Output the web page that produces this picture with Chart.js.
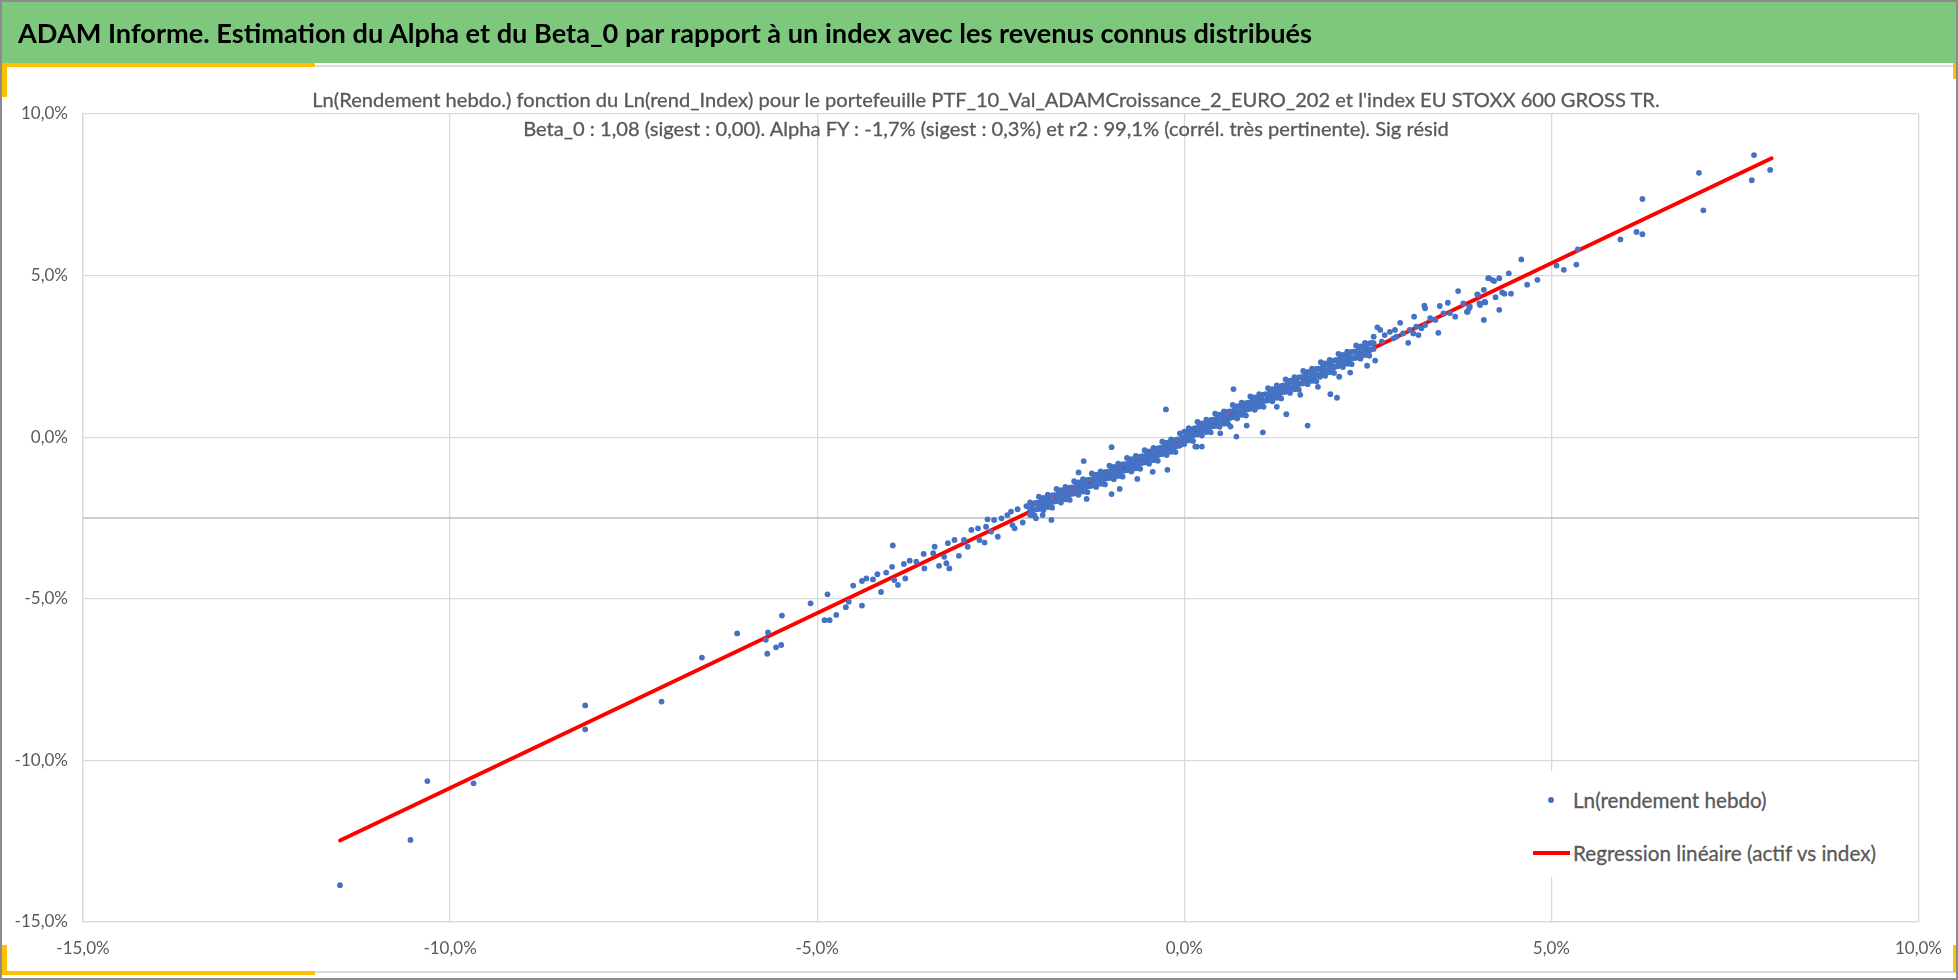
<!DOCTYPE html>
<html lang="fr">
<head>
<meta charset="utf-8">
<title>ADAM Informe - Alpha et Beta_0</title>
<script src="https://cdn.jsdelivr.net/npm/chart.js@4.4.1/dist/chart.umd.min.js"></script>
<style>
  html, body { margin: 0; padding: 0; background: #fff; }
  #page { position: relative; width: 1958px; height: 980px; overflow: hidden; background: #fff; }
  #chart { position: absolute; left: 0; top: 0; }
  .deco { position: absolute; }
  #band { left: 2px; top: 2px; width: 1954px; height: 61px; background: #7ec87e; }
  #bandTitle { position: absolute; left: 18px; top: 2px; height: 61px; display: flex; align-items: center; color: #000; font-weight: bold; white-space: nowrap; }
  .sub { position: absolute; left: 0; width: 1972px; text-align: center; line-height: 29px; color: #595959; white-space: nowrap; -webkit-text-stroke: 0.3px #595959; }
  #legend { position: absolute; left: 1530px; top: 771px; width: 365px; height: 106px; background: #fff; }
  .legRow { position: absolute; left: 43px; height: 30px; line-height: 30px; color: #595959; white-space: nowrap; -webkit-text-stroke: 0.3px #595959; }
  .legDot { position: absolute; width: 6px; height: 6px; border-radius: 50%; }
  .legLine { position: absolute; height: 4px; }
  #border { position: absolute; left: 0; top: 0; width: 1958px; height: 980px; box-sizing: border-box; border: 2px solid #8c8c8c; pointer-events: none; }
</style>
</head>
<body>
<div id="page">
  <canvas id="chart" width="1958" height="980"></canvas>
  <div class="deco" id="band"></div>
  <div id="bandTitle">ADAM Informe. Estimation du Alpha et du Beta_0 par rapport à un index avec les revenus connus distribués</div>
  <div class="deco" style="left:4px;top:63px;width:311px;height:4px;background:#ffc000"></div>
  <div class="deco" style="left:315px;top:65px;width:1641px;height:2px;background:#dcdcdc"></div>
  <div class="deco" style="left:2px;top:63px;width:5px;height:34px;background:#ffc000"></div>
  <div class="deco" style="left:1953px;top:63px;width:3px;height:16px;background:#ffc000"></div>
  <div class="deco" style="left:2px;top:945px;width:5px;height:30px;background:#ffc000"></div>
  <div class="deco" style="left:2px;top:971px;width:313px;height:4px;background:#ffc000"></div>
  <div class="deco" style="left:315px;top:971px;width:1641px;height:2px;background:#dcdcdc"></div>
  <div class="deco" style="left:1953px;top:945px;width:3px;height:27px;background:#ffc000"></div>
  <div class="sub" id="sub1" style="top:85px">Ln(Rendement hebdo.) fonction du Ln(rend_Index) pour le portefeuille PTF_10_Val_ADAMCroissance_2_EURO_202 et l'index EU STOXX 600 GROSS TR.</div>
  <div class="sub" id="sub2" style="top:114px">Beta_0 : 1,08 (sigest : 0,00). Alpha FY : -1,7% (sigest : 0,3%) et r2 : 99,1% (corrél. très pertinente). Sig résid</div>
  <div id="legend"></div>
  <div id="border"></div>
</div>
<script>
// Ln weekly returns, in %: [index, portfolio]
const lowerTailPoints = [
  [-11.50, -13.86], [-10.54, -12.46], [-10.31, -10.64], [-9.68, -10.71], [-8.16, -8.30], [-8.16, -9.04],
  [-7.12, -8.18], [-6.57, -6.82], [-6.09, -6.07], [-5.67, -6.04], [-5.70, -6.27], [-5.68, -6.70],
  [-5.56, -6.50], [-5.49, -6.43], [-5.48, -5.52], [-5.09, -5.14],
  [-4.86, -4.86], [-4.90, -5.66], [-4.83, -5.66], [-4.74, -5.50], [-4.61, -5.26], [-4.57, -5.09],
  [-4.51, -4.59], [-4.39, -5.21], [-4.39, -4.45], [-4.33, -4.37], [-4.24, -4.40], [-4.18, -4.24],
  [-4.13, -4.79], [-4.06, -4.19], [-3.97, -3.35], [-3.98, -4.01], [-3.90, -4.57], [-3.95, -4.42],
  [-3.82, -3.92], [-3.80, -4.37], [-3.74, -3.82], [-3.65, -3.85], [-3.54, -4.06], [-3.55, -3.61],
  [-3.40, -3.39], [-3.42, -3.59], [-3.34, -3.98], [-3.24, -3.90], [-3.20, -4.06], [-3.27, -3.70],
  [-3.22, -3.28], [-3.13, -3.18], [-3.07, -3.67], [-3.00, -3.18], [-2.95, -3.39], [-2.90, -2.87],
  [-2.81, -2.82], [-2.79, -3.18], [-2.72, -3.26], [-2.68, -2.54], [-2.70, -2.77], [-2.63, -2.92],
  [-2.54, -3.08], [-2.59, -2.56], [-2.49, -2.51], [-2.41, -2.41], [-2.34, -2.72], [-2.31, -2.82],
  [-2.36, -2.30], [-2.27, -2.23], [-2.20, -2.64], [-2.15, -2.13], [-2.09, -2.41], [-2.02, -2.51],
  [-1.93, -2.41], [-1.81, -2.56], [-0.99, -0.31], [-1.37, -0.74], [-1.44, -1.09], [-0.99, -1.76],
  [-1.33, -1.91], [-0.88, -1.60], [-0.64, -1.29], [-0.43, -1.07], [-0.23, -1.01], [-0.25, 0.86],
  [0.15, -0.29]
];

const coreBandPoints = [
  [-2.10, -2.02], [-2.10, -2.22], [-2.10, -2.40], [-2.04, -2.04], [-2.04, -2.24], [-2.04, -2.42],
  [-1.98, -1.84], [-1.98, -2.04], [-1.98, -2.22], [-1.92, -1.88], [-1.92, -2.08], [-1.92, -2.26],
  [-1.86, -1.78], [-1.86, -1.98], [-1.86, -2.16], [-1.80, -1.80], [-1.80, -2.00], [-1.80, -2.18],
  [-1.74, -1.60], [-1.74, -1.80], [-1.74, -1.98], [-1.68, -1.64], [-1.68, -1.84], [-1.68, -2.02],
  [-1.62, -1.54], [-1.62, -1.74], [-1.62, -1.92], [-1.56, -1.56], [-1.56, -1.76], [-1.56, -1.94],
  [-1.50, -1.36], [-1.50, -1.56], [-1.50, -1.74], [-1.44, -1.40], [-1.44, -1.60], [-1.44, -1.78],
  [-1.38, -1.30], [-1.38, -1.50], [-1.38, -1.68], [-1.32, -1.32], [-1.32, -1.52], [-1.32, -1.70],
  [-1.26, -1.12], [-1.26, -1.32], [-1.26, -1.50], [-1.20, -1.16], [-1.20, -1.36], [-1.20, -1.54],
  [-1.14, -1.06], [-1.14, -1.26], [-1.14, -1.44], [-1.08, -1.08], [-1.08, -1.28], [-1.08, -1.46],
  [-1.02, -0.88], [-1.02, -1.08], [-1.02, -1.26], [-0.96, -0.92], [-0.96, -1.12], [-0.96, -1.30],
  [-0.90, -0.82], [-0.90, -1.02], [-0.90, -1.20], [-0.84, -0.84], [-0.84, -1.04], [-0.84, -1.22],
  [-0.78, -0.64], [-0.78, -0.84], [-0.78, -1.02], [-0.72, -0.68], [-0.72, -0.88], [-0.72, -1.06],
  [-0.66, -0.58], [-0.66, -0.78], [-0.66, -0.96], [-0.60, -0.60], [-0.60, -0.80], [-0.60, -0.98],
  [-0.54, -0.40], [-0.54, -0.60], [-0.54, -0.78], [-0.48, -0.44], [-0.48, -0.64], [-0.48, -0.82],
  [-0.42, -0.33], [-0.42, -0.53], [-0.42, -0.71], [-0.36, -0.35], [-0.36, -0.55], [-0.36, -0.73],
  [-0.30, -0.14], [-0.30, -0.34], [-0.30, -0.52], [-0.24, -0.17], [-0.24, -0.37], [-0.24, -0.55],
  [-0.18, -0.07], [-0.18, -0.27], [-0.18, -0.45], [-0.12, -0.08], [-0.12, -0.28], [-0.12, -0.46],
  [-0.06, 0.12], [-0.06, -0.08], [-0.06, -0.26], [0.00, 0.17], [0.00, -0.03], [0.00, -0.21],
  [0.06, 0.28], [0.06, 0.08], [0.06, -0.10], [0.12, 0.26], [0.12, 0.06], [0.12, -0.12],
  [0.18, 0.47], [0.18, 0.27], [0.18, 0.09], [0.24, 0.43], [0.24, 0.23], [0.24, 0.05],
  [0.30, 0.54], [0.30, 0.34], [0.30, 0.16], [0.36, 0.53], [0.36, 0.33], [0.36, 0.15],
  [0.42, 0.73], [0.42, 0.53], [0.42, 0.35], [0.48, 0.70], [0.48, 0.50], [0.48, 0.32],
  [0.54, 0.80], [0.54, 0.60], [0.54, 0.42], [0.60, 0.79], [0.60, 0.59], [0.60, 0.41],
  [0.66, 1.00], [0.66, 0.80], [0.66, 0.62], [0.72, 0.96], [0.72, 0.76], [0.72, 0.58],
  [0.78, 1.07], [0.78, 0.87], [0.78, 0.69], [0.84, 1.05], [0.84, 0.85], [0.84, 0.67],
  [0.90, 1.26], [0.90, 1.06], [0.90, 0.88], [0.96, 1.23], [0.96, 1.03], [0.96, 0.85],
  [1.02, 1.33], [1.02, 1.13], [1.02, 0.95], [1.08, 1.32], [1.08, 1.12], [1.08, 0.94],
  [1.14, 1.52], [1.14, 1.32], [1.14, 1.14], [1.20, 1.49], [1.20, 1.29], [1.20, 1.11],
  [1.26, 1.60], [1.26, 1.40], [1.26, 1.22], [1.32, 1.58], [1.32, 1.38], [1.32, 1.20],
  [1.38, 1.79], [1.38, 1.59], [1.38, 1.41], [1.44, 1.75], [1.44, 1.55], [1.44, 1.37],
  [1.50, 1.86], [1.50, 1.66], [1.50, 1.48], [1.56, 1.85], [1.56, 1.65], [1.56, 1.47],
  [1.62, 2.05], [1.62, 1.85], [1.62, 1.67], [1.68, 2.02], [1.68, 1.82], [1.68, 1.64],
  [1.74, 2.12], [1.74, 1.92], [1.74, 1.74], [1.80, 2.11], [1.80, 1.91], [1.80, 1.73],
  [1.86, 2.32], [1.86, 2.12], [1.86, 1.94], [1.92, 2.28], [1.92, 2.08], [1.92, 1.90],
  [1.98, 2.39], [1.98, 2.19], [1.98, 2.01], [2.04, 2.37], [2.04, 2.17], [2.04, 1.99],
  [2.10, 2.58], [2.10, 2.38], [2.10, 2.20], [2.16, 2.55], [2.16, 2.35], [2.16, 2.17],
  [2.22, 2.65], [2.22, 2.45], [2.22, 2.27], [2.28, 2.64], [2.28, 2.44], [2.28, 2.26],
  [2.34, 2.84], [2.34, 2.64], [2.34, 2.46], [2.40, 2.81], [2.40, 2.61], [2.40, 2.43],
  [2.46, 2.92], [2.46, 2.72], [2.46, 2.54], [2.52, 2.90], [2.52, 2.70], [2.52, 2.52],
  [2.58, 3.11], [2.58, 2.91], [2.58, 2.73]
];

const coreFillPoints = [
  [-2.07, -2.09], [-2.07, -2.29], [-2.01, -2.03], [-2.01, -2.23], [-1.95, -1.97], [-1.95, -2.17],
  [-1.89, -1.91], [-1.89, -2.11], [-1.83, -1.85], [-1.83, -2.05], [-1.77, -1.79], [-1.77, -1.99],
  [-1.71, -1.73], [-1.71, -1.93], [-1.65, -1.67], [-1.65, -1.87], [-1.59, -1.61], [-1.59, -1.81],
  [-1.53, -1.55], [-1.53, -1.75], [-1.47, -1.49], [-1.47, -1.69], [-1.41, -1.43], [-1.41, -1.63],
  [-1.35, -1.37], [-1.35, -1.57], [-1.29, -1.31], [-1.29, -1.51], [-1.23, -1.25], [-1.23, -1.45],
  [-1.17, -1.19], [-1.17, -1.39], [-1.11, -1.13], [-1.11, -1.33], [-1.05, -1.07], [-1.05, -1.27],
  [-0.99, -1.01], [-0.99, -1.21], [-0.93, -0.95], [-0.93, -1.15], [-0.87, -0.89], [-0.87, -1.09],
  [-0.81, -0.83], [-0.81, -1.03], [-0.75, -0.77], [-0.75, -0.97], [-0.69, -0.71], [-0.69, -0.91],
  [-0.63, -0.65], [-0.63, -0.85], [-0.57, -0.59], [-0.57, -0.79], [-0.51, -0.53], [-0.51, -0.73],
  [-0.45, -0.47], [-0.45, -0.67], [-0.39, -0.40], [-0.39, -0.60], [-0.33, -0.33], [-0.33, -0.53],
  [-0.27, -0.27], [-0.27, -0.47], [-0.21, -0.20], [-0.21, -0.40], [-0.15, -0.14], [-0.15, -0.34],
  [-0.09, -0.07], [-0.09, -0.27], [-0.03, 0.00], [-0.03, -0.20], [0.03, 0.14], [0.03, -0.06],
  [0.09, 0.21], [0.09, 0.01], [0.15, 0.28], [0.15, 0.08], [0.21, 0.34], [0.21, 0.14],
  [0.27, 0.41], [0.27, 0.21], [0.33, 0.47], [0.33, 0.27], [0.39, 0.54], [0.39, 0.34],
  [0.45, 0.61], [0.45, 0.41], [0.51, 0.67], [0.51, 0.47], [0.57, 0.74], [0.57, 0.54],
  [0.63, 0.80], [0.63, 0.60], [0.69, 0.87], [0.69, 0.67], [0.75, 0.94], [0.75, 0.74],
  [0.81, 1.00], [0.81, 0.80], [0.87, 1.07], [0.87, 0.87], [0.93, 1.13], [0.93, 0.93],
  [0.99, 1.20], [0.99, 1.00], [1.05, 1.27], [1.05, 1.07], [1.11, 1.33], [1.11, 1.13],
  [1.17, 1.40], [1.17, 1.20], [1.23, 1.46], [1.23, 1.26], [1.29, 1.53], [1.29, 1.33],
  [1.35, 1.60], [1.35, 1.40], [1.41, 1.66], [1.41, 1.46], [1.47, 1.73], [1.47, 1.53],
  [1.53, 1.79], [1.53, 1.59], [1.59, 1.86], [1.59, 1.66], [1.65, 1.93], [1.65, 1.73],
  [1.71, 1.99], [1.71, 1.79], [1.77, 2.06], [1.77, 1.86], [1.83, 2.12], [1.83, 1.92],
  [1.89, 2.19], [1.89, 1.99], [1.95, 2.26], [1.95, 2.06], [2.01, 2.32], [2.01, 2.12],
  [2.07, 2.39], [2.07, 2.19], [2.13, 2.45], [2.13, 2.25], [2.19, 2.52], [2.19, 2.32],
  [2.25, 2.59], [2.25, 2.39], [2.31, 2.65], [2.31, 2.45], [2.37, 2.72], [2.37, 2.52],
  [2.43, 2.78], [2.43, 2.58], [2.49, 2.85], [2.49, 2.65], [2.55, 2.92], [2.55, 2.72]
];

const upperTailPoints = [
  [0.67, 1.49], [1.82, 1.56], [1.99, 1.33], [2.08, 1.22], [1.39, 0.71], [1.68, 0.36], [1.07, 0.15],
  [0.85, 0.36], [0.71, 0.02], [0.24, -0.29], [0.17, -0.29], [0.49, 0.12], [0.63, 0.33], [0.99, 0.94],
  [1.26, 0.94], [1.58, 1.31], [1.85, 1.87], [2.35, 2.49], [2.53, 2.70], [2.60, 2.37], [2.49, 2.21],
  [2.26, 2.00], [2.11, 1.87], [2.67, 3.32], [2.73, 3.16], [2.80, 3.26], [2.87, 3.32], [2.89, 3.11],
  [2.98, 3.21], [3.07, 3.32], [3.16, 3.42], [3.23, 3.37], [3.28, 3.47], [3.19, 3.16], [3.12, 3.21],
  [3.28, 3.99], [3.35, 3.68], [3.42, 3.63], [3.53, 3.83], [3.62, 3.84], [3.69, 3.73], [3.80, 4.14],
  [3.89, 4.04], [4.00, 4.40], [4.09, 4.19], [4.20, 4.86], [3.85, 3.88], [2.69, 2.96], [2.85, 3.06],
  [4.15, 4.92], [3.73, 4.52], [3.59, 4.16], [3.48, 4.06], [3.27, 4.07], [3.13, 3.73], [2.94, 3.54],
  [2.63, 3.40], [3.46, 3.23], [3.05, 2.92],
  [7.76, 8.73], [7.98, 8.27], [7.73, 7.95], [7.01, 8.18], [7.07, 7.02], [6.24, 7.37], [6.16, 6.35],
  [6.24, 6.28], [5.94, 6.12], [5.36, 5.81], [5.34, 5.34], [5.17, 5.18], [5.07, 5.31], [4.81, 4.87],
  [4.67, 4.72], [4.59, 5.50], [4.42, 5.07], [4.45, 4.44], [4.29, 4.92], [4.22, 4.83], [4.14, 4.92],
  [4.08, 4.56], [4.36, 4.44], [4.33, 4.48], [4.24, 4.33], [4.29, 3.94], [4.08, 3.63], [4.10, 4.17],
  [4.03, 4.09], [3.99, 4.42], [4.02, 4.14], [3.88, 3.99], [3.86, 3.88]
];

// regression line end points (actif vs index)
const regressionX = [-11.5, 8.0];
const regressionY = [-12.48, 8.63];

// horizontal axis crosses at -2,5%
const axisLineX = [-15, 10];
const axisLineY = [-2.5, -2.5];

const seriesLabels = ["Ln(rendement hebdo)", "Regression linéaire (actif vs index)"];
const axisMin = -15;
const axisMax = 10;
const axisStep = 5;

const FONT = "Lato, 'DejaVu Sans Condensed', sans-serif";
const measureCtx = document.createElement("canvas").getContext("2d");
function fitSize(text, weight, targetWidth) {
  measureCtx.font = weight + " 100px " + FONT;
  return (100 * targetWidth) / measureCtx.measureText(text).width;
}

const pct = (v) => v.toFixed(1).replace(".", ",") + "%";

const bandTitle = document.getElementById("bandTitle");
bandTitle.style.fontFamily = FONT;
bandTitle.style.fontSize = fitSize(bandTitle.textContent, "bold", 1296) + "px";

const sub1 = document.getElementById("sub1");
const sub2 = document.getElementById("sub2");
const subSize = fitSize(sub1.textContent, "normal", 1349);
[sub1, sub2].forEach((el) => {
  el.style.fontFamily = FONT;
  el.style.fontSize = subSize + "px";
});

const tickSize = 17;

const weeklyPoints = lowerTailPoints.concat(coreBandPoints, coreFillPoints, upperTailPoints);

const chart = new Chart(document.getElementById("chart"), {
  type: "scatter",
  data: {
    datasets: [
      {
        label: seriesLabels[0],
        data: weeklyPoints.map(([x, y]) => ({ x, y })),
        backgroundColor: "#4472c4",
        borderWidth: 0,
        pointRadius: 2.9,
        pointHoverRadius: 2.9,
      },
      {
        label: seriesLabels[1],
        type: "line",
        data: regressionX.map((x, i) => ({ x, y: regressionY[i] })),
        borderColor: "#ff0000",
        borderWidth: 3.8,
        borderCapStyle: "round",
        pointRadius: 0,
        fill: false,
      },
      {
        label: "",
        type: "line",
        data: axisLineX.map((x, i) => ({ x, y: axisLineY[i] })),
        borderColor: "#bfbfbf",
        borderWidth: 1.3,
        pointRadius: 0,
        fill: false,
      },
    ],
  },
  options: {
    responsive: false,
    animation: false,
    devicePixelRatio: 1,
    layout: { padding: { top: 114, right: 35, bottom: 0, left: 0 } },
    plugins: {
      legend: { display: false },
      title: { display: false },
      tooltip: { enabled: false },
    },
    scales: {
      x: {
        type: "linear",
        min: axisMin,
        max: axisMax,
        ticks: {
          stepSize: axisStep,
          callback: pct,
          color: "#595959",
          font: { family: FONT, size: tickSize },
          padding: 16,
          maxRotation: 0,
        },
        grid: { color: "#d9d9d9", lineWidth: 1.3, drawTicks: false },
        border: { color: "#d9d9d9", width: 1.3 },
        afterFit: (scale) => {
          scale.height = 58;
        },
      },
      y: {
        type: "linear",
        min: axisMin,
        max: axisMax,
        ticks: {
          stepSize: axisStep,
          callback: pct,
          color: "#595959",
          font: { family: FONT, size: tickSize },
          padding: 15,
        },
        grid: { color: "#d9d9d9", lineWidth: 1.3, drawTicks: false },
        border: { color: "#d9d9d9", width: 1.3 },
        afterFit: (scale) => {
          scale.width = 83;
        },
      },
    },
  },
});

// legend drawn inside the plot, bottom right
const legend = document.getElementById("legend");
const legendSize = fitSize(seriesLabels[1], "normal", 304);
const rowTops = [14, 67];
chart.data.datasets
  .filter((ds) => ds.label)
  .forEach((ds, i) => {
    const row = document.createElement("div");
    row.className = "legRow";
    row.style.top = rowTops[i] + "px";
    row.style.fontFamily = FONT;
    row.style.fontSize = legendSize + "px";
    row.textContent = ds.label;
    legend.appendChild(row);
    const mark = document.createElement("div");
    if (i === 0) {
      mark.className = "legDot";
      mark.style.left = "18px";
      mark.style.top = rowTops[i] + 15 - 3 + "px";
      mark.style.background = ds.backgroundColor;
    } else {
      mark.className = "legLine";
      mark.style.left = "3px";
      mark.style.width = "37px";
      mark.style.top = rowTops[i] + 15 - 2 + "px";
      mark.style.background = ds.borderColor;
    }
    legend.appendChild(mark);
  });
</script>
</body>
</html>
